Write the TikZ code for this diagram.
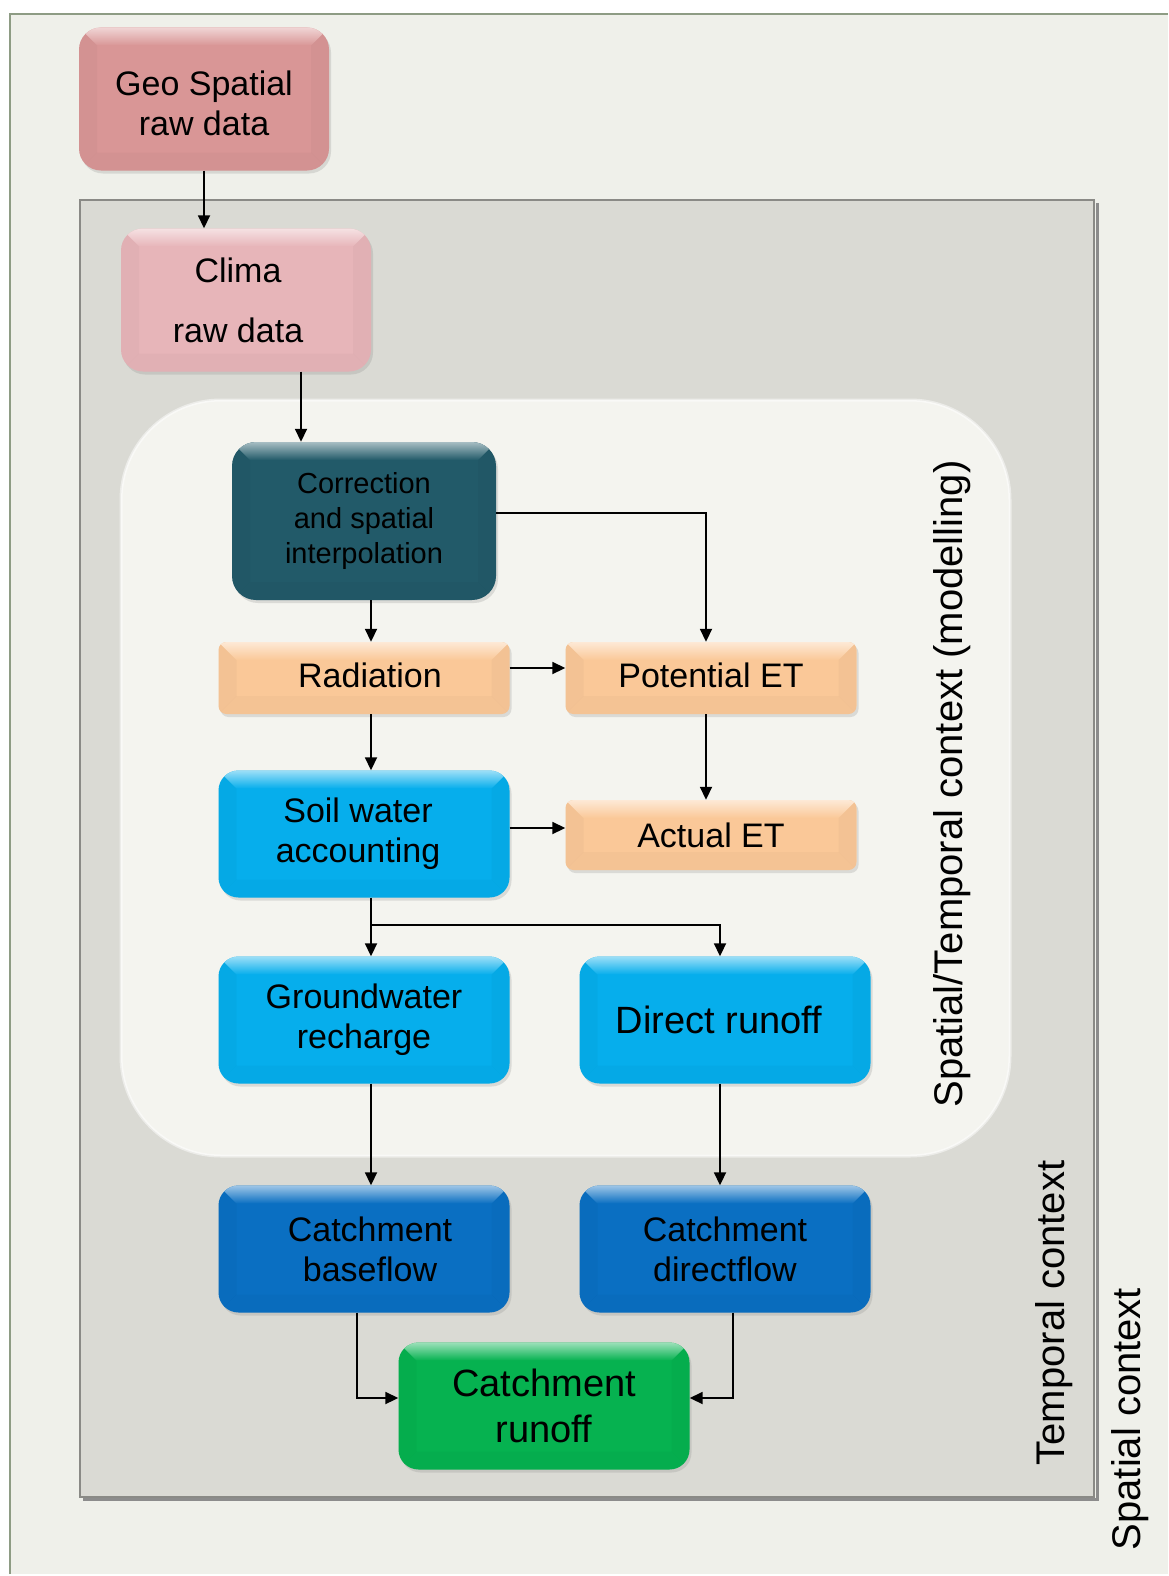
\documentclass[tikz,border=0pt]{standalone}
\usepackage{fontspec}
\setmainfont{Liberation Sans}
\usetikzlibrary{shadows,arrows.meta,calc}

% palette
\definecolor{pagebg}{HTML}{EFF0EA}
\definecolor{pageedge}{HTML}{8E9C84}
\definecolor{tempbg}{HTML}{DADAD4}
\definecolor{tempedge}{HTML}{8A8A86}
\definecolor{modbg}{HTML}{F4F4EF}
\definecolor{geocol}{HTML}{D99696}
\definecolor{climacol}{HTML}{E7B5B9}
\definecolor{corrcol}{HTML}{225A69}
\definecolor{peach}{HTML}{FAC898}
\definecolor{skyblue}{HTML}{06AEEC}
\definecolor{deepblue}{HTML}{0A6FC2}
\definecolor{runoffgreen}{HTML}{06B250}

% font sizes
\newcommand\fsMain{\fontsize{34}{40}\selectfont}
\newcommand\fsSmall{\fontsize{29}{35}\selectfont}
\newcommand\fsBig{\fontsize{38}{46}\selectfont}
\newcommand\fsLabel{\fontsize{40}{46}\selectfont}
\newcommand\bev{18pt}

\tikzset{
  x=1pt, y=-1pt,
  >={Triangle[length=13pt,width=12pt]},
  flow/.style={line width=1.8pt, ->, black},
  bevelbox/.style={
    fill=#1, inner sep=0pt, align=center, text=black,
    drop shadow={shadow xshift=2pt, shadow yshift=-3pt, opacity=.22},
    path picture={
      \begin{scope}[sharp corners]
        % top highlight
        \shade[top color=#1!40!white, bottom color=#1]
          (path picture bounding box.north west) -- (path picture bounding box.north east)
          -- ++(-\bev,-\bev) -- ([shift={(\bev,-\bev)}]path picture bounding box.north west) -- cycle;
        % side bevels
        \fill[#1!75!black, opacity=.1]
          (path picture bounding box.north west) -- ++(\bev,-\bev)
          -- ([shift={(\bev,\bev)}]path picture bounding box.south west)
          -- (path picture bounding box.south west) -- cycle;
        \fill[#1!75!black, opacity=.1]
          (path picture bounding box.north east) -- ++(-\bev,-\bev)
          -- ([shift={(-\bev,\bev)}]path picture bounding box.south east)
          -- (path picture bounding box.south east) -- cycle;
        % lower edge
        \fill[#1!70!black, opacity=.08]
          (path picture bounding box.south west) -- (path picture bounding box.south east)
          -- ++(-\bev,\bev) -- ([shift={(\bev,\bev)}]path picture bounding box.south west) -- cycle;
      \end{scope}
    }
  },
  rawbox/.style={bevelbox=#1, rounded corners=22pt, minimum width=250pt, minimum height=143pt, font=\fsMain},
  procbox/.style={bevelbox=#1, rounded corners=20pt, minimum width=291pt, minimum height=127pt, font=\fsMain},
  etbox/.style={bevelbox=peach, rounded corners=8pt, minimum width=291pt, minimum height=72pt, font=\fsMain},
  sidelabel/.style={rotate=90, font=\fsLabel, text=black, inner sep=0pt},
}

\begin{document}
\begin{tikzpicture}
  \useasboundingbox (0,0) rectangle (1168,1576);
  \fill[white] (0,0) rectangle (1168,1576);

  % spatial context panel
  \fill[pagebg] (10,14) rectangle (1168,1574);
  \draw[pageedge, line width=2pt] (10,1574) -- (10,14) -- (1168,14);

  % temporal context panel
  \draw[black!45, line width=3pt] (83,1499) -- (1097,1499) -- (1097,203);
  \draw[fill=tempbg, draw=tempedge, line width=2pt] (80,200) rectangle (1094,1497);

  % spatial/temporal modelling region
  \fill[modbg, rounded corners=100pt] (121,400) rectangle (1010,1156);
  \draw[white, draw opacity=.5, line width=3pt, rounded corners=100pt] (121,400) rectangle (1010,1156);

  % process boxes
  \node[rawbox=geocol] (geo) at (204,99)
    {\raisebox{-9pt}[\height][\depth]{\begin{tabular}{@{}c@{}}Geo Spatial\\raw data\end{tabular}}};
  \node[rawbox=climacol] (clima) at (246,300) {Clima\hspace*{16pt}\\[20pt]raw data\hspace*{16pt}};
  \node[bevelbox=corrcol, rounded corners=24pt, minimum width=264pt, minimum height=158pt, font=\fsSmall]
    (corr) at (364,521) {Correction\\and spatial\\interpolation};
  \node[etbox] (rad) at (364,678) {\hspace*{12pt}\raisebox{6pt}{Radiation}};
  \node[etbox] (pet) at (711,678) {\raisebox{6pt}{Potential ET}};
  \node[procbox=skyblue] (soil) at (364,834) {Soil water\hspace*{12pt}\\accounting\hspace*{12pt}};
  \node[etbox, minimum height=70pt] (aet) at (711,835) {\raisebox{-4pt}{Actual ET}};
  \node[procbox=skyblue] (gw) at (364,1020) {Groundwater\\recharge};
  \node[procbox=skyblue, font=\fsBig] (dr) at (725,1020) {Direct runoff\hspace*{12pt}};
  \node[procbox=deepblue] (bf) at (364,1249) {\hspace*{12pt}Catchment\\\hspace*{12pt}baseflow};
  \node[procbox=deepblue] (df) at (725,1249) {Catchment\\directflow};
  \node[procbox=runoffgreen, font=\fsBig] (ro) at (544,1406) {Catchment\\runoff};

  % context labels
  \node[sidelabel] (modlabel) at (952,784) {Spatial/Temporal context (modelling)};
  \node[sidelabel] (templabel) at (1054,1313) {Temporal context};
  \node[sidelabel] (spatlabel) at (1130,1419) {Spatial context};

  % connectors
  \draw[flow] (geo.south) -- (geo.south |- clima.north);
  \draw[flow] ([xshift=55pt]clima.south) -- ([xshift=55pt]clima.south |- corr.north);
  \draw[flow] ([xshift=7pt]corr.south) -- ([xshift=7pt]rad.north);
  \draw[flow] ([yshift=8pt]corr.east) -| ([xshift=-5pt]pet.north);
  \draw[flow] ([yshift=10pt]rad.east) -- ([yshift=10pt]rad.east -| pet.west);
  \draw[flow] ([xshift=7pt]rad.south) -- ([xshift=7pt]soil.north);
  \draw[flow] ([xshift=-5pt]pet.south) -- ([xshift=-5pt]aet.north);
  \draw[flow] ([yshift=6pt]soil.east) -- ([yshift=6pt]soil.east -| aet.west);
  \coordinate (split) at (371,925);
  \draw[flow] ([xshift=7pt]soil.south) -- ([xshift=7pt]gw.north);
  \draw[flow] (split) -| ([xshift=-5pt]dr.north);
  \draw[flow] ([xshift=7pt]gw.south) -- ([xshift=7pt]bf.north);
  \draw[flow] ([xshift=-5pt]dr.south) -- ([xshift=-5pt]df.north);
  \draw[flow] ([xshift=-7pt]bf.south) |- ([yshift=8pt]ro.west);
  \draw[flow] ([xshift=8pt]df.south) |- ([yshift=8pt]ro.east);
\end{tikzpicture}
\end{document}
